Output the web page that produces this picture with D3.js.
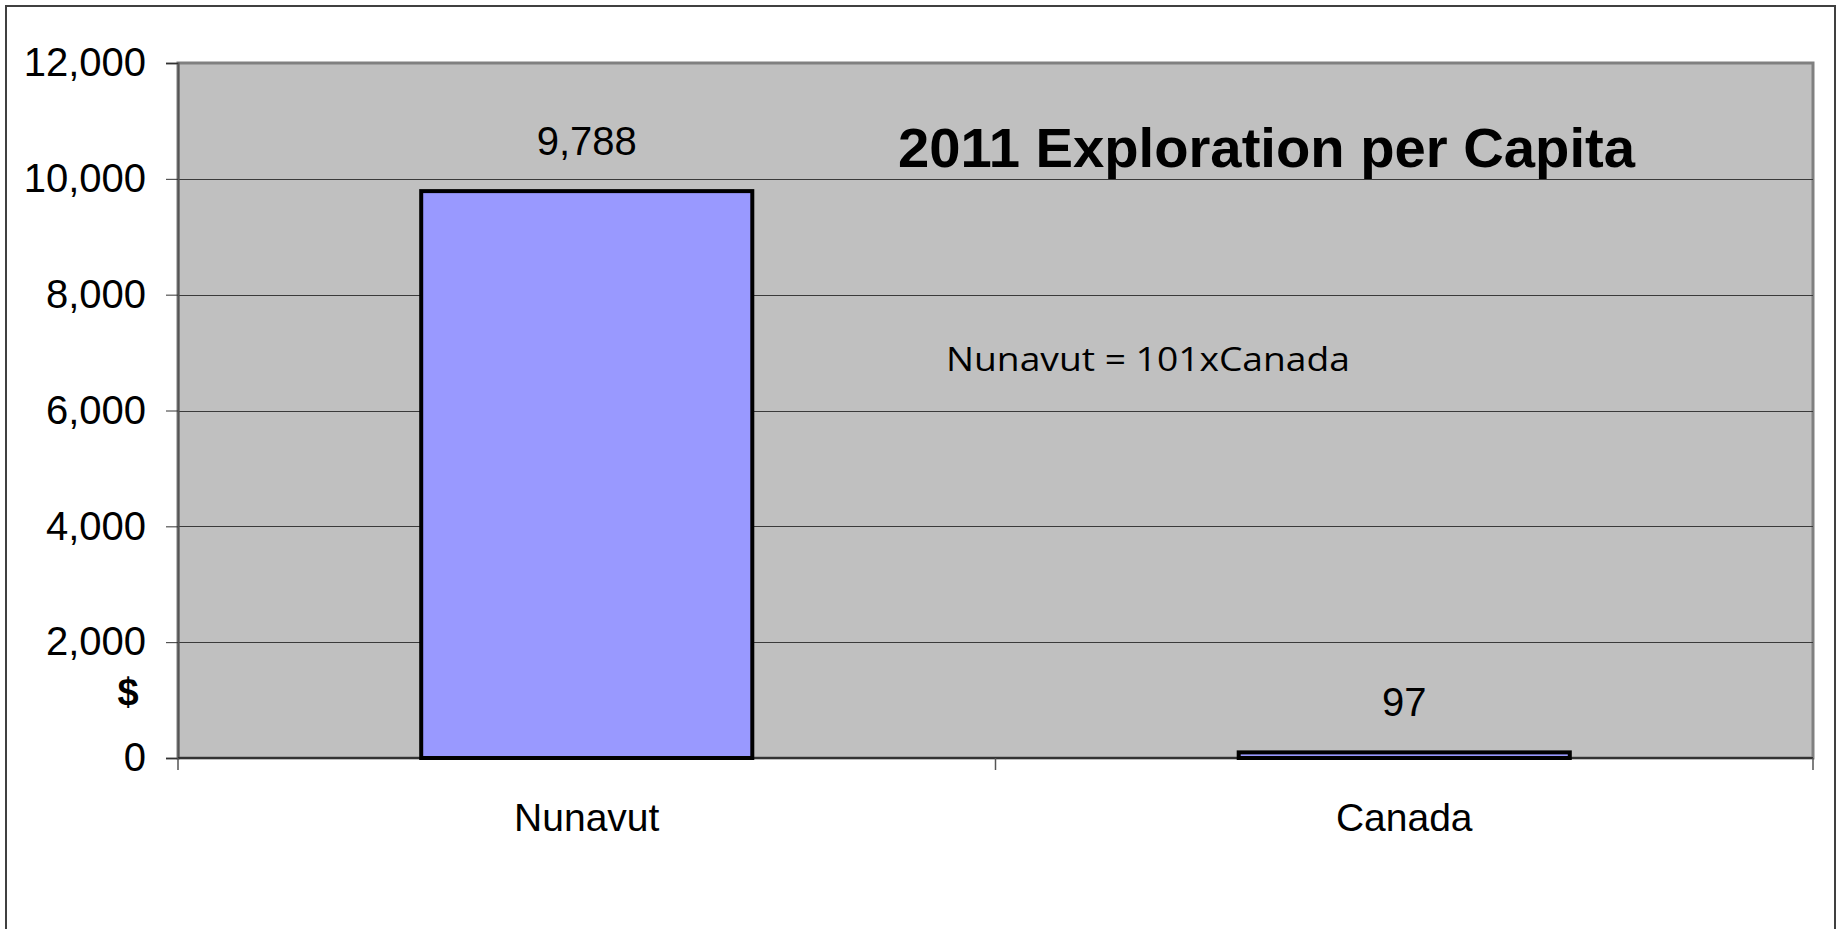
<!DOCTYPE html>
<html>
<head>
<meta charset="utf-8">
<script src="https://cdn.jsdelivr.net/npm/d3@7"></script>
<style>
  body { margin: 0; background: #fff; }
  svg { display: block; }
</style>
</head>
<body>
<svg id="chart"></svg>
<script>
// data
var categories = ["Nunavut", "Canada"];
var values = [9788, 97];
var valueLabels = ["9,788", "97"];
var yTicks = [0, 2000, 4000, 6000, 8000, 10000, 12000];
var titleText = "2011 Exploration per Capita";
var noteText = "Nunavut = 101xCanada";
var yAxisLabel = "$";

var width = 1837, height = 929;
var margin = {top: 63, right: 24, bottom: 171, left: 178};
var font = "'Liberation Sans', Arial, sans-serif";

var svg = d3.select("#chart")
    .attr("width", width)
    .attr("height", height);

// outer frame (bottom edge falls outside the picture)
svg.append("rect")
    .attr("x", 6).attr("y", 6)
    .attr("width", 1829).attr("height", 1000)
    .attr("fill", "#fff")
    .attr("stroke", "#404040")
    .attr("stroke-width", 2);

var plotW = width - margin.left - margin.right;
var plotH = height - margin.top - margin.bottom;

var x = d3.scaleBand()
    .domain(categories)
    .range([0, plotW])
    .paddingInner(0.595)
    .paddingOuter(0.2975);

var y = d3.scaleLinear()
    .domain([0, 12000])
    .range([plotH, 0]);

var g = svg.append("g")
    .attr("transform", "translate(" + margin.left + "," + margin.top + ")");

// plot background with gray frame
g.append("rect")
    .attr("x", 0).attr("y", 0)
    .attr("width", plotW).attr("height", plotH)
    .attr("fill", "#c0c0c0")
    .attr("stroke", "#808080")
    .attr("stroke-width", 3);

// gridlines
g.append("g")
    .selectAll("line")
    .data(yTicks.filter(function(d) { return d > 0 && d < 12000; }))
    .enter().append("line")
    .attr("x1", 0).attr("x2", plotW)
    .attr("y1", function(d) { return Math.round(y(d)) + 0.5; })
    .attr("y2", function(d) { return Math.round(y(d)) + 0.5; })
    .attr("stroke", "#3a3a3a")
    .attr("stroke-width", 1);

// y axis
var yAxis = d3.axisLeft(y)
    .tickValues(yTicks)
    .tickSize(12)
    .tickPadding(20)
    .tickFormat(d3.format(","));

var yG = g.append("g").call(yAxis);
yG.select(".domain").attr("stroke", "#555").attr("stroke-width", 2);
yG.selectAll(".tick line").attr("stroke", "#333");
yG.selectAll("text")
    .style("font-family", font)
    .style("font-size", "40px")
    .attr("fill", "#000");

// x axis: ticks at band boundaries
var bounds = [0, plotW / 2, plotW];
g.append("line")
    .attr("x1", 0).attr("x2", plotW)
    .attr("y1", plotH).attr("y2", plotH)
    .attr("stroke", "#333").attr("stroke-width", 2);
g.selectAll(".xtick")
    .data(bounds)
    .enter().append("line")
    .attr("class", "xtick")
    .attr("x1", function(d) { return d; })
    .attr("x2", function(d) { return d; })
    .attr("y1", plotH).attr("y2", plotH + 12)
    .attr("stroke", "#555").attr("stroke-width", 1.5);

g.selectAll(".xlabel")
    .data(categories)
    .enter().append("text")
    .attr("class", "xlabel")
    .attr("x", function(d) { return x(d) + x.bandwidth() / 2; })
    .attr("y", plotH + 73)
    .attr("text-anchor", "middle")
    .style("font-family", font)
    .style("font-size", "39px")
    .text(function(d) { return d; });

// bars
g.selectAll(".bar")
    .data(values)
    .enter().append("rect")
    .attr("class", "bar")
    .attr("x", function(d, i) { return x(categories[i]); })
    .attr("y", function(d) { return y(d); })
    .attr("width", x.bandwidth())
    .attr("height", function(d) { return plotH - y(d); })
    .attr("fill", "#9999ff")
    .attr("stroke", "#000")
    .attr("stroke-width", 4);

// value labels
g.selectAll(".vlabel")
    .data(values)
    .enter().append("text")
    .attr("class", "vlabel")
    .attr("x", function(d, i) { return x(categories[i]) + x.bandwidth() / 2; })
    .attr("y", function(d) { return y(d) - 36; })
    .attr("text-anchor", "middle")
    .style("font-family", font)
    .style("font-size", "40px")
    .text(function(d, i) { return valueLabels[i]; });

// y axis "$" label
svg.append("text")
    .attr("x", 128).attr("y", 705)
    .attr("text-anchor", "middle")
    .style("font-family", font)
    .style("font-size", "38px")
    .style("font-weight", "bold")
    .text(yAxisLabel);

// title inside plot area
svg.append("text")
    .attr("x", 898).attr("y", 167)
    .style("font-family", font)
    .style("font-size", "56px")
    .style("font-weight", "bold")
    .attr("textLength", 737)
    .attr("lengthAdjust", "spacingAndGlyphs")
    .text(titleText);

// annotation
svg.append("text")
    .attr("x", 946).attr("y", 371)
    .style("font-family", "'Open Sans', 'Noto Sans', sans-serif")
    .style("font-size", "33px")
    .attr("textLength", 404)
    .attr("lengthAdjust", "spacingAndGlyphs")
    .text(noteText);
</script>
</body>
</html>
